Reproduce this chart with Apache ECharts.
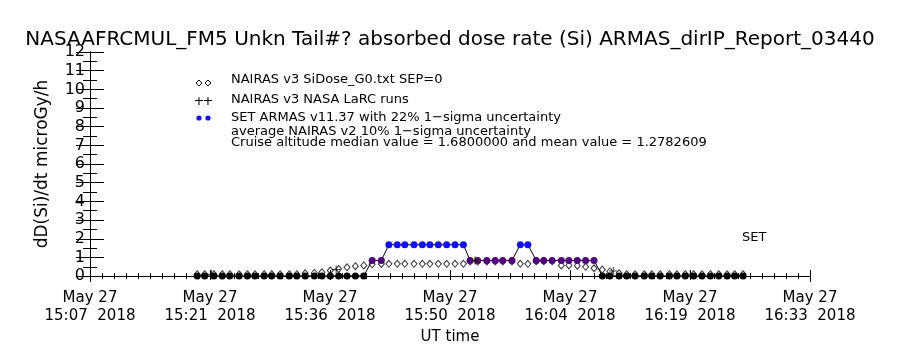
<!DOCTYPE html>
<html lang="en">
<head>
  <meta charset="utf-8">
  <title>ARMAS absorbed dose rate</title>
  <script src="https://cdn.jsdelivr.net/npm/echarts@6/dist/echarts.min.js"></script>
  <style>
    html, body { margin: 0; padding: 0; background: #fff; }
    #chart { width: 900px; height: 350px; }
  </style>
</head>
<body>
  <div id="chart"></div>
  <script>
    // x values are minutes after 15:07 UT, May 27 2018
    var xMax = 86;
    var tickDates = ['May 27', 'May 27', 'May 27', 'May 27', 'May 27', 'May 27', 'May 27'];
    var tickTimes = ['15:07', '15:21', '15:36', '15:50', '16:04', '16:19', '16:33'];
    var tickYear = '2018';

    // one sample per minute (ARMAS and NAIRAS share the time stamps)
    var sampleTimes = [
      12.8, 13.7, 14.8, 15.8, 16.7, 17.8, 18.8, 19.7, 20.8, 21.7,
      22.7, 23.8, 24.7, 25.7, 26.8, 27.7, 28.7, 29.7, 30.7, 31.7,
      32.7, 33.7, 34.8, 35.7, 36.7, 37.6, 38.7, 39.7, 40.6, 41.6,
      42.6, 43.6, 44.6, 45.4, 46.3, 47.4, 48.4, 49.3, 50.4, 51.4,
      52.3, 53.3, 54.2, 55.2, 56.3, 57.2, 58.2, 59.2, 60.2, 61.2,
      62.1, 63.2, 64.1, 65.1, 66.2, 67.1, 68.1, 69.2, 70.1, 71.1,
      72.1, 73.1, 74.1, 75.1, 76.1, 77.0, 78.0
    ];
    var armasValues = [
      0.01, 0.01, 0.01, 0.01, 0.01, 0.01, 0.01, 0.01, 0.01, 0.01,
      0.01, 0.01, 0.01, 0.01, 0.01, 0.01, 0.01, 0.01, 0.01, 0.01,
      0.01, 0.84, 0.84, 1.68, 1.68, 1.68, 1.68, 1.68, 1.68, 1.68,
      1.68, 1.68, 1.68, 0.84, 0.84, 0.84, 0.84, 0.84, 0.84, 1.68,
      1.68, 0.84, 0.84, 0.84, 0.84, 0.84, 0.84, 0.84, 0.84, 0.01,
      0.01, 0.01, 0.01, 0.01, 0.01, 0.01, 0.01, 0.01, 0.01, 0.01,
      0.01, 0.01, 0.01, 0.01, 0.01, 0.01, 0.01
    ];
    var nairasValues = [
      0.10, 0.10, 0.10, 0.10, 0.10, 0.10, 0.10, 0.10, 0.10, 0.10,
      0.10, 0.10, 0.10, 0.15, 0.17, 0.20, 0.30, 0.38, 0.47, 0.53,
      0.57, 0.63, 0.65, 0.66, 0.66, 0.66, 0.66, 0.66, 0.66, 0.66,
      0.66, 0.66, 0.66, 0.78, 0.78, 0.78, 0.78, 0.78, 0.78, 0.66,
      0.66, 0.80, 0.80, 0.80, 0.57, 0.57, 0.56, 0.50, 0.42, 0.35,
      0.25, 0.15, 0.10, 0.10, 0.10, 0.10, 0.10, 0.10, 0.10, 0.10,
      0.10, 0.10, 0.10, 0.10, 0.10, 0.10, 0.10
    ];
    var larcTimes = [14.5, 29.4, 46.0, 62.5, 71.7];
    var larcValues = [0.10, 0.35, 0.84, 0.27, 0.10];

    var legendLines = [
      'NAIRAS v3 SiDose_G0.txt SEP=0',
      'NAIRAS v3 NASA LaRC runs',
      'SET ARMAS v11.37 with 22% 1\u2212sigma uncertainty',
      'average NAIRAS v2 10% 1\u2212sigma uncertainty',
      'Cruise altitude median value = 1.6800000 and mean value = 1.2782609'
    ];
    var titleText = 'NASAAFRCMUL_FM5 Unkn Tail#? absorbed dose rate (Si) ARMAS_dirIP_Report_03440';

    var FONT = 'DejaVu Sans';
    var step = xMax / 6;

    function armasColor(v) {
      if (v >= 1.5) return '#1010ff';
      if (v >= 0.5) return '#500080';
      return '#000000';
    }

    var armasData = sampleTimes.map(function (t, i) {
      return { value: [t, armasValues[i]], itemStyle: { color: armasColor(armasValues[i]) } };
    });
    var nairasData = sampleTimes.map(function (t, i) { return [t, nairasValues[i]]; });
    var larcData = larcTimes.map(function (t, i) { return [t, larcValues[i]]; });

    var plusPath = 'path://M3.5,0h1v8h-1zM0,3.5h8v1h-8z';

    function frameAxis(pos, isX) {
      return {
        type: 'value', position: pos, min: 0,
        max: isX ? xMax : 12, interval: isX ? step : 1,
        axisLine: { show: true, lineStyle: { color: '#000', width: 1 } },
        axisTick: { show: true, inside: true, length: isX ? 6 : 14, lineStyle: { color: '#000' } },
        minorTick: { show: true, splitNumber: isX ? 10 : 2, length: isX ? 3 : 7, lineStyle: { color: '#000' } },
        splitLine: { show: false },
        axisLabel: { show: false }
      };
    }

    var xBottom = frameAxis('bottom', true);
    xBottom.axisLabel = {
      show: true, color: '#000', fontFamily: FONT, fontSize: 15, lineHeight: 18, margin: 13,
      formatter: function (v) {
        var i = Math.round(v / step);
        return tickDates[i] + '\n' + tickTimes[i] + '  ' + tickYear;
      }
    };
    xBottom.name = 'UT time';
    xBottom.nameLocation = 'middle';
    xBottom.nameGap = 50;
    xBottom.nameTextStyle = { color: '#000', fontFamily: FONT, fontSize: 15 };

    var yLeft = frameAxis('left', false);
    yLeft.axisLabel = { show: true, color: '#000', fontFamily: FONT, fontSize: 16, margin: 5 };
    yLeft.name = 'dD(Si)/dt microGy/h';
    yLeft.nameLocation = 'middle';
    yLeft.nameGap = 39;
    yLeft.nameTextStyle = { color: '#000', fontFamily: FONT, fontSize: 17 };

    var graphics = [];
    // hide the part of the symbols that falls below the x axis
    graphics.push({ type: 'rect', z: 100, shape: { x: 91, y: 280, width: 718, height: 7 }, style: { fill: '#fff' } });
    // legend symbols
    [199, 208].forEach(function (x) {
      graphics.push({ type: 'polygon', z: 100, shape: { points: [[x, 80], [x + 3, 83], [x, 86], [x - 3, 83]] },
        style: { fill: 'none', stroke: '#000', lineWidth: 1 } });
      graphics.push({ type: 'text', z: 100, x: x, y: 102, style: { text: '+', font: '13px ' + FONT, fill: '#000', align: 'center', verticalAlign: 'middle' } });
      graphics.push({ type: 'circle', z: 100, shape: { cx: x, cy: 118, r: 2.6 }, style: { fill: '#1010ff' } });
    });
    var legendY = [80, 100, 118, 132, 143];
    legendLines.forEach(function (s, i) {
      graphics.push({ type: 'text', z: 100, x: 231, y: legendY[i],
        style: { text: s, font: '13px ' + FONT, fill: '#000', verticalAlign: 'middle' } });
    });
    graphics.push({ type: 'text', z: 100, x: 742, y: 238,
      style: { text: 'SET', font: '13px ' + FONT, fill: '#000', verticalAlign: 'middle' } });

    var chart = echarts.init(document.getElementById('chart'), null, { renderer: 'canvas' });
    chart.setOption({
      animation: false,
      backgroundColor: '#fff',
      title: {
        text: titleText, left: 'center', top: 25,
        textStyle: { color: '#000', fontFamily: FONT, fontSize: 20, fontWeight: 'normal' }
      },
      grid: { left: 90, right: 90, top: 52, bottom: 71 },
      xAxis: [xBottom, frameAxis('top', true)],
      yAxis: [yLeft, frameAxis('right', false)],
      graphic: graphics,
      series: [
        {
          name: 'NAIRAS v3 SiDose_G0.txt SEP=0', type: 'scatter', data: nairasData,
          symbol: 'diamond', symbolSize: [6, 7], z: 3,
          itemStyle: { color: 'rgba(0,0,0,0)', borderColor: '#000', borderWidth: 1 }
        },
        {
          name: 'SET ARMAS', type: 'line', data: armasData, z: 4,
          symbol: 'circle', symbolSize: 7, showAllSymbol: true,
          lineStyle: { color: '#000', width: 1 }
        },
        {
          name: 'NAIRAS v3 NASA LaRC runs', type: 'scatter', data: larcData, z: 5,
          symbol: plusPath, symbolSize: 8, itemStyle: { color: '#000' }
        }
      ]
    });
  </script>
</body>
</html>
